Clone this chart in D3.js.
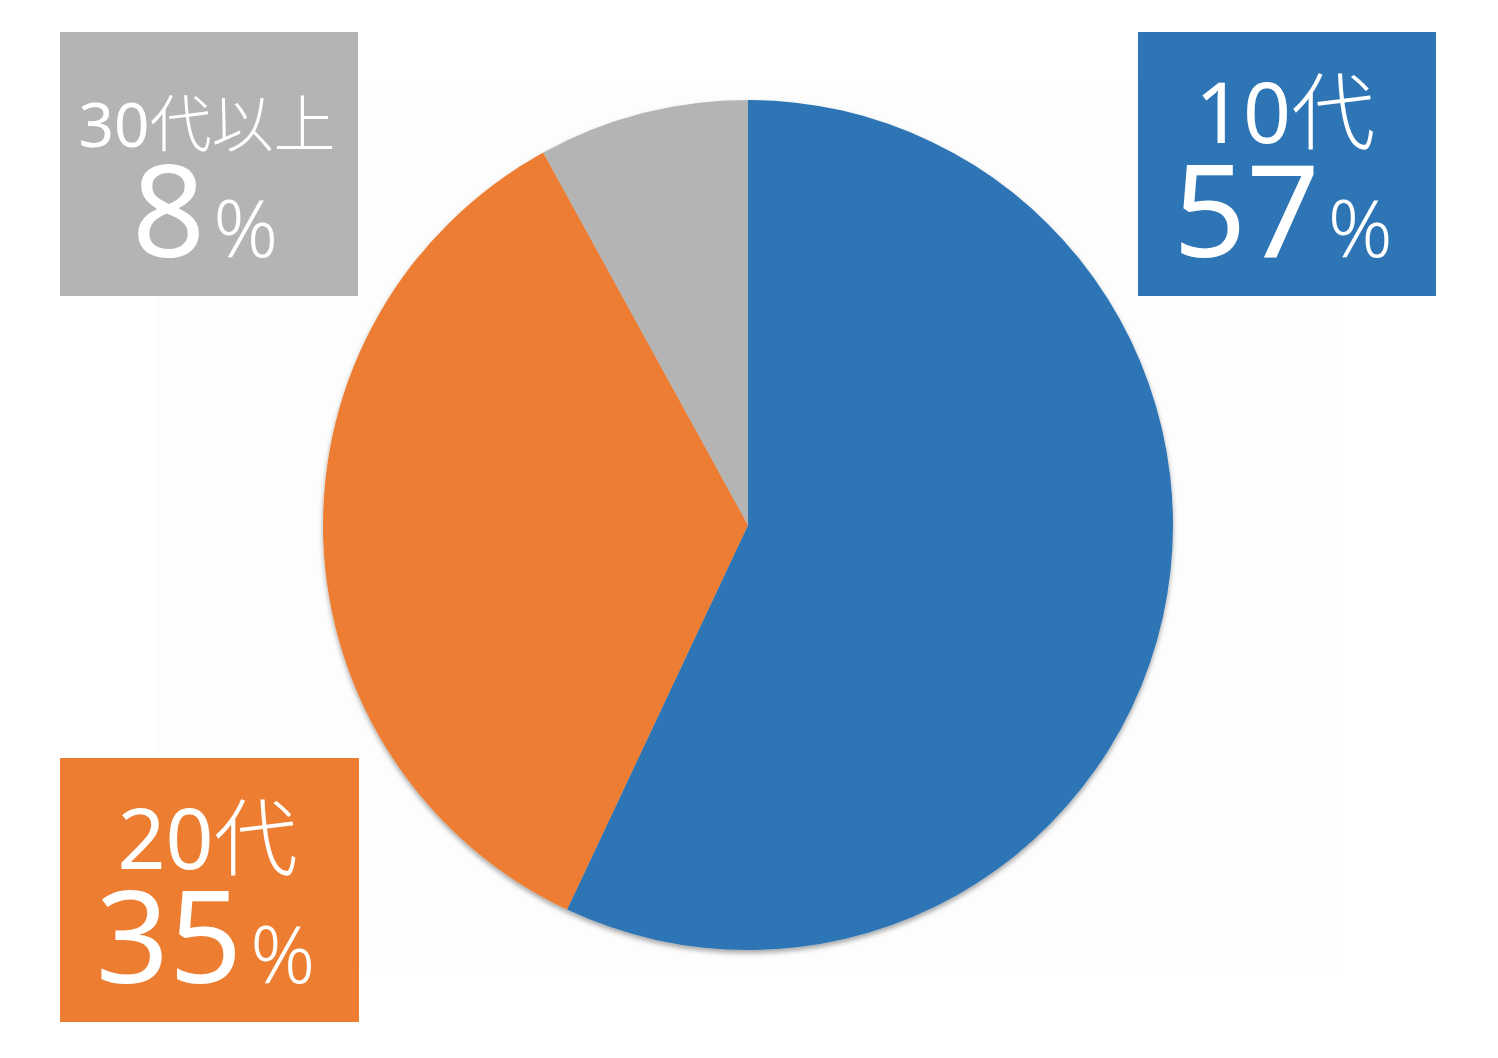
<!DOCTYPE html>
<html>
<head>
<meta charset="utf-8">
<script src="https://cdn.jsdelivr.net/npm/d3@7"></script>
<style>
  html, body { margin: 0; padding: 0; background: #ffffff; }
  svg { display: block; }
  text { fill: #ffffff; font-family: "Noto Sans", "Noto Sans CJK JP", sans-serif; }
</style>
</head>
<body>
<div id="chart"></div>
<script>
// data
var categories = ["10代", "20代", "30代以上"];
var shares = [57, 35, 8];
var colors = ["#2e75b6", "#ed7d31", "#b4b4b4"];

var width = 1498, height = 1058;
var cx = 748, cy = 525, outerRadius = 425;

// label boxes (x, y of top-left), one per category
var boxes = [
  {x: 1138, y: 32, w: 298, h: 264},
  {x: 60, y: 758, w: 299, h: 264},
  {x: 60, y: 32, w: 298, h: 264}
];

var svg = d3.select("#chart")
  .append("svg")
  .attr("width", width)
  .attr("height", height);

var defs = svg.append("defs");
var filter = defs.append("filter")
  .attr("id", "shadow")
  .attr("x", "-10%").attr("y", "-10%")
  .attr("width", "120%").attr("height", "120%");
filter.append("feDropShadow")
  .attr("dx", 0).attr("dy", 3)
  .attr("stdDeviation", 2.5)
  .attr("flood-color", "#000")
  .attr("flood-opacity", 0.35);

// faint plot area
svg.append("rect")
  .attr("x", 157).attr("y", 82)
  .attr("width", 1181).attr("height", 887)
  .attr("fill", "#fdfdfd");

var data = categories.map(function(c, i){
  return {name: c, value: shares[i], color: colors[i]};
});

var pie = d3.pie()
  .sort(null)
  .value(function(d){ return d.value; });

var arc = d3.arc()
  .innerRadius(0)
  .outerRadius(outerRadius);

var g = svg.append("g")
  .attr("transform", "translate(" + cx + "," + cy + ")")
  .attr("filter", "url(#shadow)");

g.selectAll("path")
  .data(pie(data))
  .enter()
  .append("path")
  .attr("fill", function(d){ return d.data.color; })
  .attr("d", arc);

// labels
var labels = svg.selectAll(".label")
  .data(data)
  .enter()
  .append("g")
  .attr("class", "label")
  .attr("transform", function(d, i){
    return "translate(" + boxes[i].x + "," + boxes[i].y + ")";
  });

labels.append("rect")
  .attr("width", function(d, i){ return boxes[i].w; })
  .attr("height", function(d, i){ return boxes[i].h; })
  .attr("fill", function(d){ return d.color; });

var names = labels.append("text")
  .attr("x", function(d, i){ return boxes[i].w / 2 - 2; })
  .attr("y", function(d){ return d.name.length > 3 ? 115 : 111; })
  .attr("text-anchor", "middle")
  .style("font-size", function(d){ return d.name.length > 3 ? "62px" : "84px"; });

names.append("tspan")
  .text(function(d){ return d.name.match(/^\d+/)[0]; });
names.append("tspan")
  .style("font-weight", "300")
  .text(function(d){ return d.name.replace(/^\d+/, ""); });

var pct = labels.append("text")
  .attr("x", function(d, i){ return boxes[i].w / 2 - 4; })
  .attr("y", 225)
  .attr("text-anchor", "middle");

pct.append("tspan")
  .style("font-size", "128px")
  .text(function(d){ return d.value; });
pct.append("tspan")
  .attr("dx", 8)
  .style("font-size", "80px")
  .style("font-weight", "300")
  .text("%");
</script>
</body>
</html>
